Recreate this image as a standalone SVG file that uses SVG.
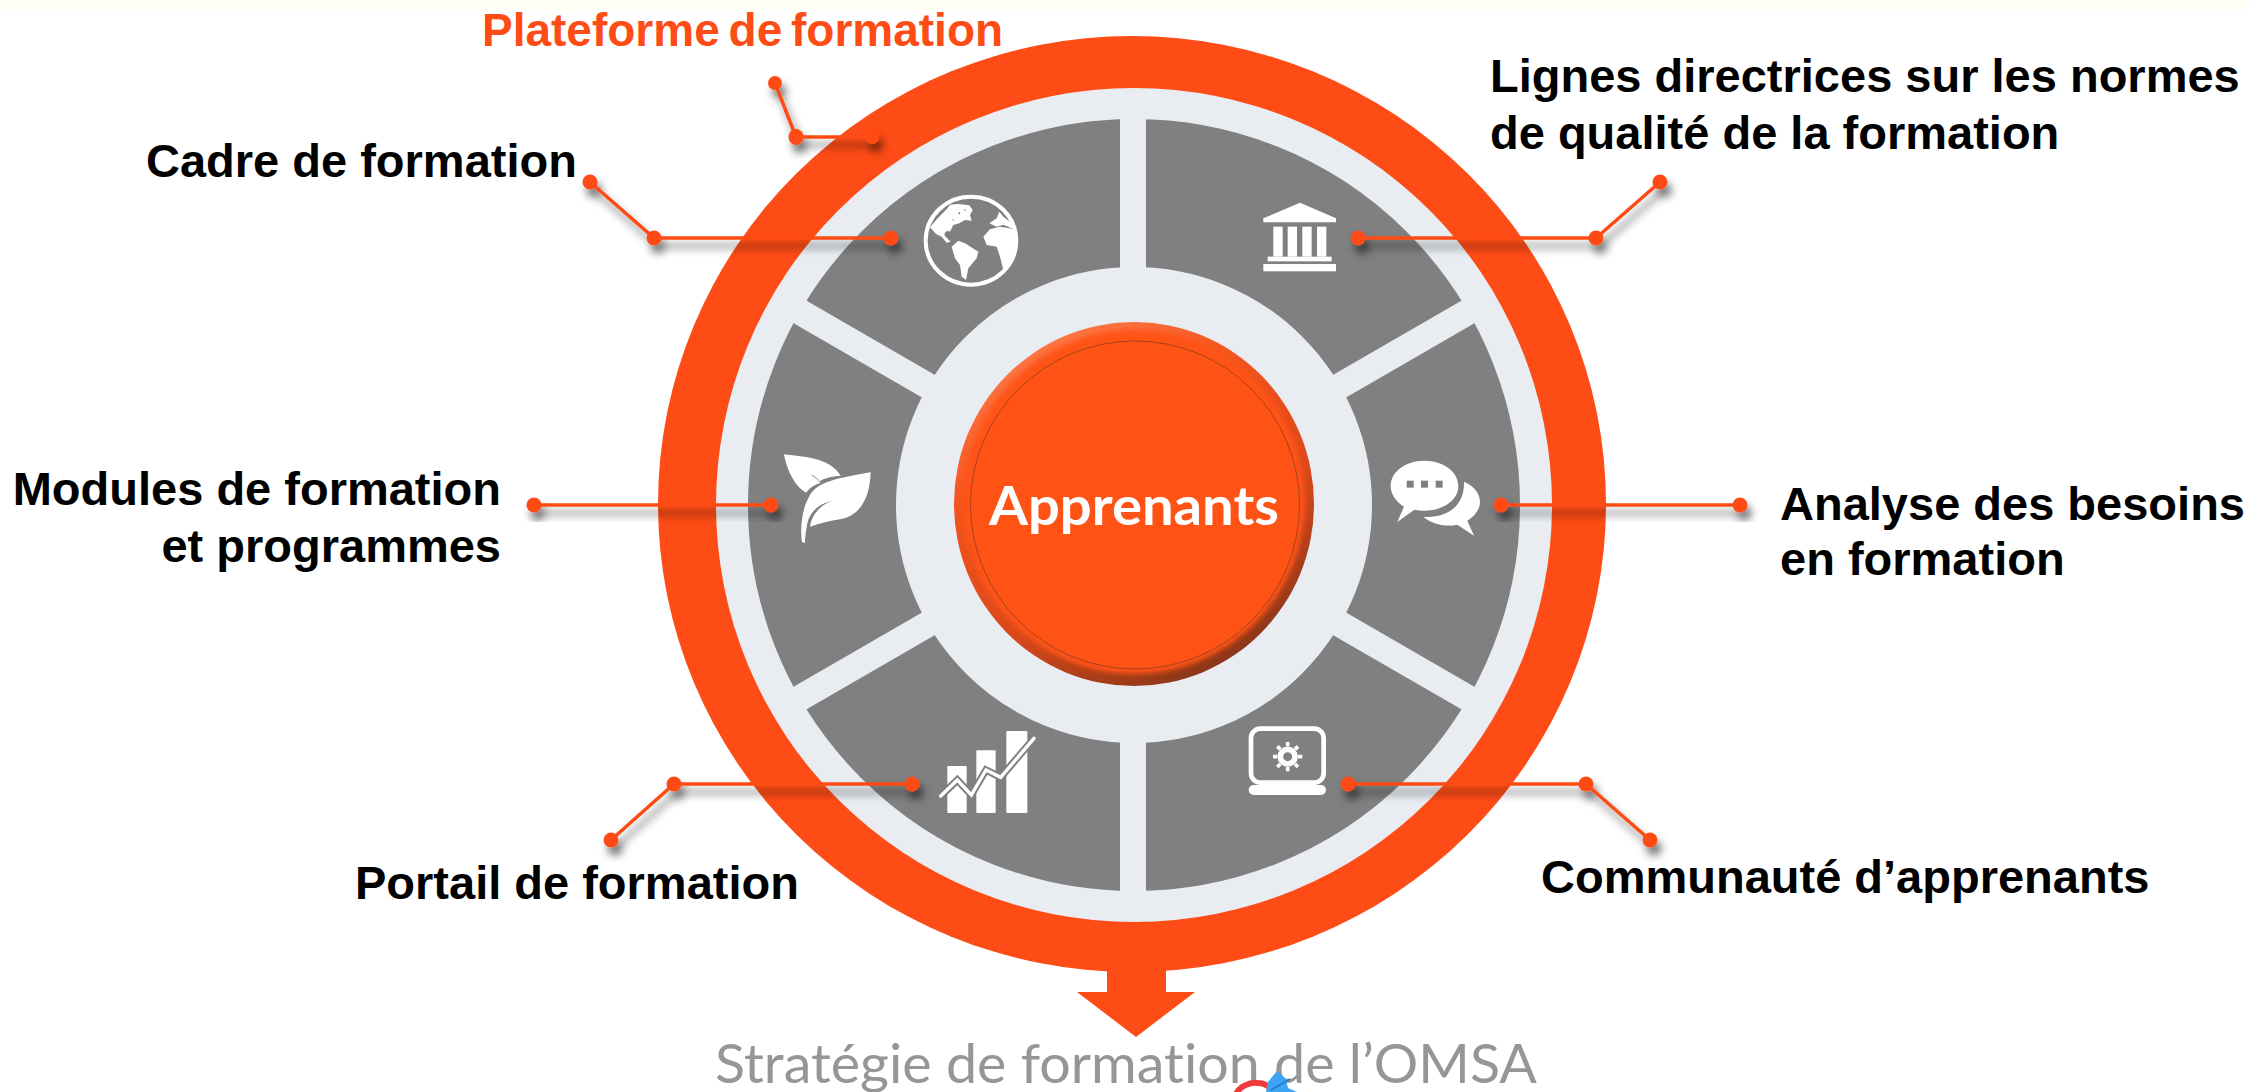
<svg xmlns="http://www.w3.org/2000/svg" width="2251" height="1092" viewBox="0 0 2251 1092">
<defs>
<style>
.lbl{font-family:"Liberation Sans",Arial,sans-serif;font-weight:700;font-size:47px;fill:#000}
.or{fill:#FE4C16}
.ln{fill:none;stroke:#FE4C16;stroke-width:3.5}
.dot{fill:#FE4C16}
.ic{fill:#fff}
.conn{filter:url(#sh)}
</style>
<filter id="sh" x="-20%" y="-60%" width="140%" height="220%"><feDropShadow dx="4" dy="8" stdDeviation="4" flood-color="#000" flood-opacity=".55"/></filter>
<filter id="bl" x="-5%" y="-5%" width="110%" height="110%"><feGaussianBlur stdDeviation="2.5"/></filter>
<linearGradient id="bev" x1=".2" y1="0" x2=".75" y2="1"><stop offset="0" stop-color="#FF8050"/><stop offset=".3" stop-color="#F4541E"/><stop offset=".65" stop-color="#D9481A"/><stop offset="1" stop-color="#7E3418"/></linearGradient>
<clipPath id="gc"><ellipse cx="213" cy="152" rx="136" ry="132"/></clipPath>
</defs>
<rect width="2251" height="1092" fill="#fff"/>
<rect width="2251" height="10" fill="#FFFFF6"/>

<g id="platform">
<ellipse class="or" cx="1132" cy="504" rx="474" ry="468"/>
<path class="or" d="M1107,965H1166V992H1195L1136,1037L1077,992H1107Z"/>
</g>
<g id="ring">
<ellipse cx="1134" cy="505" rx="418" ry="417" fill="#E9EDF2"/>
<ellipse cx="1134" cy="505" rx="312" ry="312" fill="none" stroke="#808080" stroke-width="148"/>
<g stroke="#E9EDF2" stroke-width="26">
<path d="M1133,105V905"/>
<path d="M788,305L1480,705"/>
<path d="M788,705L1480,305"/>
</g>
</g>

<g id="center">
<ellipse cx="1134" cy="504" rx="180" ry="182" fill="url(#bev)"/>
<ellipse cx="1134" cy="502" rx="171" ry="172" fill="#FF5219" filter="url(#bl)"/>
<ellipse cx="1135" cy="505" rx="164.500" ry="164" fill="none" stroke="#A8421C" stroke-width="1"/>
<text x="1134" y="525" text-anchor="middle" font-family="Lato,'Open Sans',sans-serif" font-weight="700" font-size="54" fill="#fff" textLength="290" lengthAdjust="spacingAndGlyphs" style="font-variant-ligatures:none">Apprenants</text>
</g>

<g id="icon-globe" transform="translate(900 190) scale(.3333)">
<ellipse cx="213" cy="152" rx="136" ry="132" fill="none" stroke="#fff" stroke-width="12"/>
<g clip-path="url(#gc)" class="ic">
<path d="M90,112C108,90 125,72 140,58L150,44 175,42 208,46 218,60 210,75 215,92 195,90 178,100 160,105 150,125C140,118 130,130 135,138L152,155 140,158 125,140 108,132Z"/>
<path d="M155,170L175,152 195,160 235,185 230,205 205,235 198,270 185,260 180,225 165,205Z"/>
<path d="M250,140L270,118 300,110 345,118 350,170 335,215 310,240 300,200 290,170 260,165Z"/>
<path d="M268,100L290,85 298,65 310,80 335,100 338,116 310,104 290,110Z"/>
</g>
<g fill="#808080"><circle cx="178" cy="70" r="3"/><circle cx="160" cy="90" r="2.500"/><circle cx="195" cy="60" r="2.500"/></g>
</g>

<g id="icon-bank" class="ic" transform="translate(1250 190) scale(.3333)">
<path d="M40,85L150,38L258,85V97H40Z"/>
<rect x="70" y="110" width="28" height="90"/><rect x="113" y="110" width="28" height="90"/><rect x="157" y="110" width="28" height="90"/><rect x="201" y="110" width="28" height="90"/>
<rect x="53" y="200" width="192" height="14"/><rect x="40" y="222" width="218" height="22"/>
</g>

<g id="icon-leaf" class="ic" transform="translate(770 440) scale(.3333)">
<path d="M42,43C90,50 180,50 212,108C185,108 160,116 150,124C140,112 130,105 122,104C135,112 145,120 152,128C130,135 118,145 108,158C75,140 50,90 42,43Z"/>
<path d="M302,97C300,160 280,225 210,238C180,242 150,250 120,260C125,225 150,195 185,183C145,192 120,215 112,250C108,270 106,290 104,310L96,305C90,270 95,210 115,175C135,130 180,118 302,97Z"/>
</g>

<g id="icon-chat" class="ic" transform="translate(1380 450) scale(.3333)">
<path d="M133,32C190,32 235,65 235,108C235,150 190,182 133,182C122,182 112,181 103,179L52,216L72,170C48,155 32,132 32,108C32,65 77,32 133,32Z"/>
<path d="M252,95C282,108 300,130 300,155C300,178 285,198 262,212L282,257L232,224C195,232 155,222 130,200C190,206 255,175 252,95Z"/>
<g fill="#808080"><rect x="80" y="92" width="21" height="21"/><rect x="123" y="92" width="21" height="21"/><rect x="167" y="92" width="21" height="21"/></g>
</g>

<g id="icon-chart" transform="translate(930 720) scale(.3333)">
<g class="ic"><rect x="52" y="138" width="58" height="141" rx="3"/><rect x="139" y="91" width="58" height="188" rx="3"/><rect x="229" y="33" width="63" height="246" rx="3"/></g>
<path d="M32,228L82,180L124,225L168,150L212,172L312,55" fill="none" stroke="#808080" stroke-width="22"/>
<path d="M32,228L82,180L124,225L168,150L212,172L312,55" fill="none" stroke="#fff" stroke-width="10" stroke-linecap="round"/>
</g>

<g id="icon-laptop" transform="translate(1230 715) scale(.3333)">
<rect x="63" y="41" width="218" height="162" rx="28" fill="none" stroke="#fff" stroke-width="14"/>
<rect class="ic" x="56" y="210" width="232" height="30" rx="15"/>
<circle cx="173" cy="125" r="22" fill="none" stroke="#fff" stroke-width="17"/>
<path d="M173,81V169M129,125H217M142,94L204,156M204,94L142,156" stroke="#fff" stroke-width="11" stroke-dasharray="13 62 13 100" fill="none"/>
</g>

<g id="connectors">
<g class="conn" id="c-plateforme"><path class="ln" d="M775,83L796,137H872"/><ellipse class="dot" cx="775" cy="83" rx="7" ry="7"/><ellipse class="dot" cx="796" cy="137" rx="7.500" ry="8"/><circle class="dot" cx="872" cy="137" r="7"/></g>
<g class="conn" id="c-cadre"><path class="ln" d="M590,182L654,238H891"/><circle class="dot" cx="590" cy="182" r="7.500"/><circle class="dot" cx="654" cy="238" r="7.500"/><circle class="dot" cx="891" cy="238" r="7.500"/></g>
<g class="conn" id="c-lignes"><path class="ln" d="M1358,238H1596L1660,182"/><circle class="dot" cx="1358" cy="238" r="7.500"/><circle class="dot" cx="1596" cy="238" r="7.500"/><circle class="dot" cx="1660" cy="182" r="7.500"/></g>
<g class="conn" id="c-modules"><path class="ln" d="M534,505H771"/><circle class="dot" cx="534" cy="505" r="7.500"/><circle class="dot" cx="771" cy="505" r="7.500"/></g>
<g class="conn" id="c-analyse"><path class="ln" d="M1501,505H1740"/><circle class="dot" cx="1501" cy="505" r="7.500"/><circle class="dot" cx="1740" cy="505" r="7.500"/></g>
<g class="conn" id="c-portail"><path class="ln" d="M912,784H674L611,840"/><circle class="dot" cx="912" cy="784" r="7.500"/><circle class="dot" cx="674" cy="784" r="7.500"/><circle class="dot" cx="611" cy="840" r="7.500"/></g>
<g class="conn" id="c-communaute"><path class="ln" d="M1348,784H1586L1650,840"/><circle class="dot" cx="1348" cy="784" r="7.500"/><circle class="dot" cx="1586" cy="784" r="7.500"/><circle class="dot" cx="1650" cy="840" r="7.500"/></g>
</g>

<g id="labels">
<text class="lbl" x="482" y="46" style="fill:#FE4C16;font-size:46px" word-spacing="-4">Plateforme de formation</text>
<text class="lbl" x="146" y="177">Cadre de formation</text>
<text class="lbl" x="1490" y="92">Lignes directrices sur les normes</text>
<text class="lbl" x="1490" y="149">de qualité de la formation</text>
<text class="lbl" x="501" y="505" text-anchor="end">Modules de formation</text>
<text class="lbl" x="501" y="562" text-anchor="end">et programmes</text>
<text class="lbl" x="1780" y="520">Analyse des besoins</text>
<text class="lbl" x="1780" y="575">en formation</text>
<text class="lbl" x="355" y="899">Portail de formation</text>
<text class="lbl" x="1541" y="893">Communauté d’apprenants</text>
</g>

<g id="footer">
<text x="1126" y="1083" text-anchor="middle" font-family="Lato,'Open Sans',sans-serif" font-size="54" fill="#969696" textLength="822" lengthAdjust="spacingAndGlyphs" style="font-variant-ligatures:none">Stratégie de formation de l’OMSA</text>
<path d="M1236,1094C1240,1086 1250,1082 1258,1083C1263,1083 1267,1085 1270,1088" fill="none" stroke="#EE3B3B" stroke-width="6"/>
<path d="M1277,1071L1286,1079 1288,1088 1297,1092H1266L1268,1082Z" fill="#3DA5F4"/>
<path d="M1271,1090L1290,1079" stroke="#1F7FC9" stroke-width="2"/>
</g>
</svg>
